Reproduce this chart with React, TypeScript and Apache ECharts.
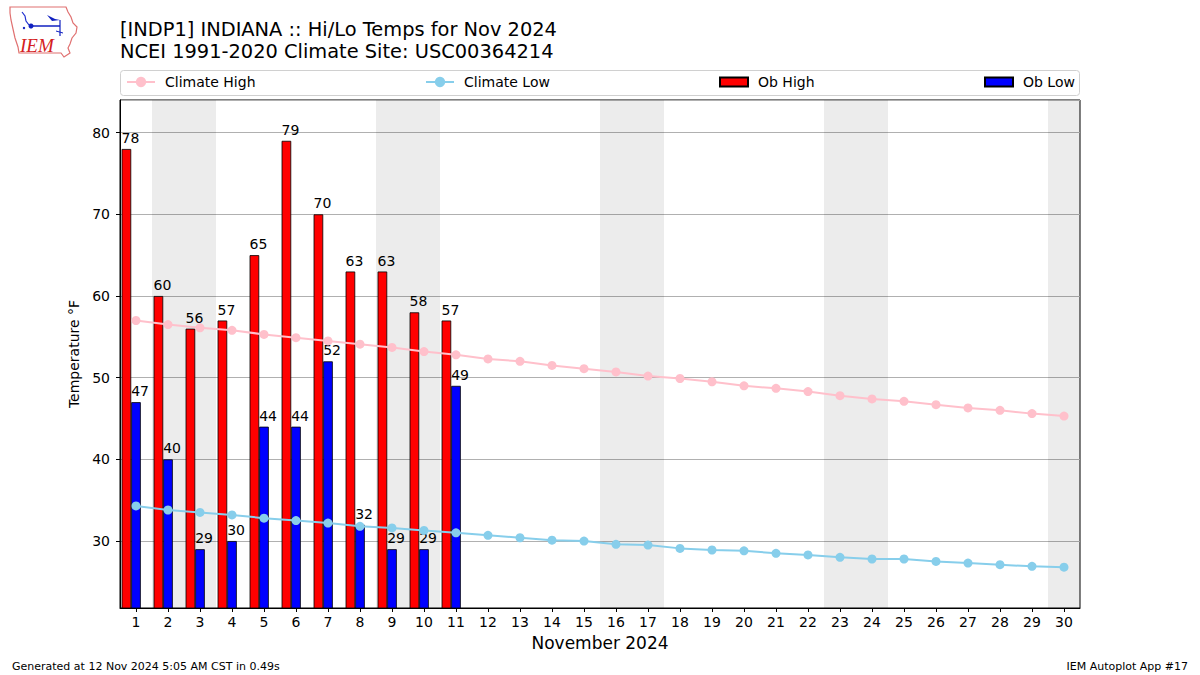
import React, { useEffect, useRef } from "react";
import * as echarts from "echarts";

const days = ["1","2","3","4","5","6","7","8","9","10","11","12","13","14","15","16","17","18","19","20","21","22","23","24","25","26","27","28","29","30"];
const obHigh = [78, 60, 56, 57, 65, 79, 70, 63, 63, 58, 57];
const obLow = [47, 40, 29, 30, 44, 44, 52, 32, 29, 29, 49];
const climateHigh = [57.0, 56.5, 56.1, 55.8, 55.3, 54.9, 54.5, 54.1, 53.7, 53.2, 52.8, 52.3, 52.0, 51.5, 51.1, 50.7, 50.2, 49.9, 49.5, 49.0, 48.7, 48.3, 47.8, 47.4, 47.1, 46.7, 46.3, 46.0, 45.6, 45.3];
const climateLow = [34.3, 33.8, 33.5, 33.2, 32.8, 32.5, 32.2, 31.8, 31.6, 31.3, 31.0, 30.7, 30.4, 30.1, 30.0, 29.6, 29.5, 29.1, 28.9, 28.8, 28.5, 28.3, 28.0, 27.8, 27.8, 27.5, 27.3, 27.1, 26.9, 26.8];
const weekendDays = [[2, 3], [9, 10], [16, 17], [23, 24], [30, 30]];
const yMin = 21.8;
const yMax = 84;

const titleLines = ["[INDP1] INDIANA :: Hi/Lo Temps for Nov 2024", "NCEI 1991-2020 Climate Site: USC00364214"];
const footerLeft = "Generated at 12 Nov 2024 5:05 AM CST in 0.49s";
const footerRight = "IEM Autoplot App #17";

const FONT = "DejaVu Sans";

export default function App() {
  const ref = useRef<HTMLDivElement>(null);
  useEffect(() => {
    if (!ref.current) return;
    const chart = echarts.init(ref.current, null, { renderer: "svg" });
    const barLabel = {
      show: true,
      position: [0, -4],
      align: "left",
      verticalAlign: "bottom",
      fontSize: 14,
      color: "#000",
      fontFamily: FONT,
    };
    const legendBase = {
      top: 75,
      padding: 0,
      itemWidth: 28,
      textStyle: { fontSize: 14, color: "#000", fontFamily: FONT, padding: [0, 0, 0, 5] },
      selectedMode: false,
    };
    const option: any = {
      animation: false,
      backgroundColor: "#fff",
      textStyle: { fontFamily: FONT },
      title: {
        text: titleLines.join("\n"),
        left: 120,
        top: 18,
        padding: 0,
        textStyle: { fontSize: 19.4, fontWeight: "normal", color: "#000", lineHeight: 22, fontFamily: FONT },
      },
      legend: [
        { ...legendBase, left: 126, itemHeight: 13, data: ["Climate High"] },
        { ...legendBase, left: 425, itemHeight: 13, data: ["Climate Low"] },
        { ...legendBase, left: 719, itemHeight: 9, icon: "rect", data: ["Ob High"] },
        { ...legendBase, left: 984, itemHeight: 9, icon: "rect", data: ["Ob Low"] },
      ],
      grid: {
        left: 120,
        right: 120,
        top: 100,
        bottom: 67,
        show: true,
        borderColor: "#000",
        borderWidth: 1,
        backgroundColor: "transparent",
        outerBoundsMode: "none",
      },
      xAxis: [
        {
          type: "category",
          data: days,
          boundaryGap: true,
          axisLine: { lineStyle: { color: "#000", width: 1 } },
          axisTick: { show: true, alignWithLabel: true, interval: 0, length: 4, lineStyle: { color: "#000" } },
          axisLabel: { interval: 0, fontSize: 14, color: "#000", margin: 7, fontFamily: FONT },
          splitLine: { show: false },
          name: "November 2024",
          nameLocation: "middle",
          nameGap: 26,
          nameTextStyle: { fontSize: 17, color: "#000", fontFamily: FONT },
        },
        {
          type: "value",
          min: 0.5,
          max: days.length + 0.5,
          show: false,
        },
      ],
      yAxis: {
        type: "value",
        min: yMin,
        max: yMax,
        axisLine: { show: true, lineStyle: { color: "#000", width: 1 } },
        axisTick: { show: true, length: 4, lineStyle: { color: "#000" } },
        axisLabel: { fontSize: 14, color: "#000", margin: 10, showMinLabel: false, showMaxLabel: false, fontFamily: FONT },
        splitLine: { show: true, lineStyle: { color: "#b0b0b0", width: 1 } },
        name: "Temperature °F",
        nameLocation: "middle",
        nameGap: 35,
        nameTextStyle: { fontSize: 14, color: "#000", fontFamily: FONT },
      },
      series: [
        {
          name: "weekend",
          type: "line",
          xAxisIndex: 1,
          yAxisIndex: 0,
          data: [],
          silent: true,
          z: 1,
          markArea: {
            silent: true,
            itemStyle: { color: "rgba(0,0,0,0.075)" },
            data: weekendDays.map(([a, b]) => [{ xAxis: a - 0.5 }, { xAxis: b + 0.5 }]),
          },
        },
        {
          name: "Ob High",
          type: "bar",
          data: obHigh,
          barWidth: "30%",
          barGap: "0%",
          itemStyle: { color: "#ff0000", borderColor: "#000", borderWidth: 0.8 },
          label: barLabel,
          z: 2,
        },
        {
          name: "Ob Low",
          type: "bar",
          data: obLow,
          barWidth: "30%",
          barGap: "0%",
          itemStyle: { color: "#0000ff", borderColor: "#000", borderWidth: 0.8 },
          label: barLabel,
          z: 2,
        },
        {
          name: "pad",
          type: "bar",
          data: days.map(() => "-"),
          barWidth: "30%",
          barGap: "0%",
          silent: true,
          itemStyle: { color: "transparent" },
        },
        {
          name: "Climate High",
          type: "line",
          data: climateHigh,
          symbol: "circle",
          symbolSize: 9,
          showSymbol: true,
          color: "#ffc0cb",
          lineStyle: { color: "#ffc0cb", width: 2 },
          itemStyle: { color: "#ffc0cb" },
          z: 3,
        },
        {
          name: "Climate Low",
          type: "line",
          data: climateLow,
          symbol: "circle",
          symbolSize: 9,
          showSymbol: true,
          color: "#87ceeb",
          lineStyle: { color: "#87ceeb", width: 2 },
          itemStyle: { color: "#87ceeb" },
          z: 3,
        },
      ],
      graphic: [
        {
          type: "rect",
          z: -1,
          shape: { x: 120.5, y: 70.5, width: 959, height: 25, r: 3 },
          style: { fill: "#fff", stroke: "#d0d0d0", lineWidth: 1 },
        },
        {
          type: "text",
          left: 12,
          top: 661,
          style: { text: footerLeft, fontSize: 11, fill: "#000", fontFamily: FONT },
        },
        {
          type: "text",
          right: 12,
          top: 661,
          style: { text: footerRight, fontSize: 11, fill: "#000", fontFamily: FONT },
        },
        {
          type: "group",
          children: [
            {
              type: "polygon",
              shape: {
                points: [[10, 7], [66, 7], [68, 12], [71, 17], [73, 23], [77, 27], [76, 33], [72, 38], [70, 44], [68, 48], [70, 53], [64, 57], [61, 53], [19, 53], [18, 47], [15, 38], [13, 29], [11, 20], [10, 13]],
              },
              style: { fill: "#fff", stroke: "#e07070", lineWidth: 1.2 },
            },
            { type: "polyline", shape: { points: [[22, 12], [25, 16], [26, 21], [29, 25]] }, style: { stroke: "#2030d0", lineWidth: 1.2, fill: "none" } },
            { type: "line", shape: { x1: 30, y1: 26, x2: 60, y2: 26 }, style: { stroke: "#1020c0", lineWidth: 1.5 } },
            { type: "circle", shape: { cx: 31, cy: 26, r: 2.5 }, style: { fill: "#1020c0" } },
            { type: "polygon", shape: { points: [[47, 15], [55, 19], [60, 20], [52, 21]] }, style: { fill: "#1020c0" } },
            { type: "line", shape: { x1: 60, y1: 20, x2: 60, y2: 36 }, style: { stroke: "#1020c0", lineWidth: 1.2 } },
            { type: "line", shape: { x1: 56, y1: 31, x2: 63, y2: 33 }, style: { stroke: "#1020c0", lineWidth: 1 } },
            { type: "circle", shape: { cx: 24, cy: 28, r: 1.2 }, style: { fill: "#1020c0" } },
            {
              type: "text",
              x: 20,
              y: 36,
              style: { text: "IEM", fontSize: 19, fontStyle: "italic", fontFamily: "Liberation Serif", fill: "#d42020" },
            },
          ],
        },
      ],
    };
    chart.setOption(option);
    return () => chart.dispose();
  }, []);
  return <div ref={ref} style={{ position: "absolute", left: 0, top: 0, width: 1200, height: 675 }} />;
}
